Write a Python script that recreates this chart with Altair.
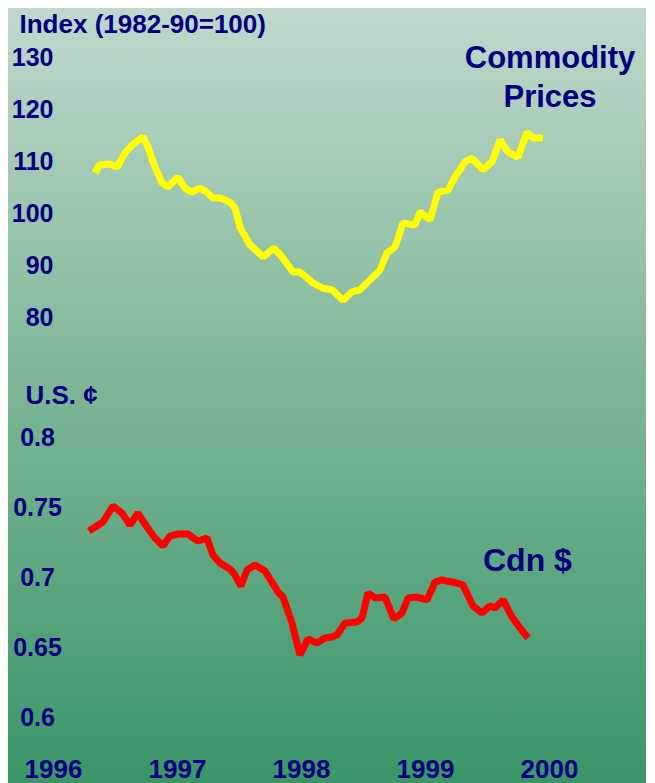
import altair as alt
import pandas as pd

# ---------------- data ----------------
cp_year = [1996.339, 1996.371, 1996.460, 1996.516, 1996.581, 1996.637, 1996.726, 1996.766,
           1996.823, 1996.879, 1996.927, 1997.008, 1997.065, 1997.121, 1997.185, 1997.242,
           1997.290, 1997.347, 1997.427, 1997.468, 1997.508, 1997.589, 1997.694, 1997.782,
           1997.847, 1997.935, 1997.992, 1998.097, 1998.177, 1998.250, 1998.339, 1998.411,
           1998.476, 1998.556, 1998.637, 1998.694, 1998.758, 1998.823, 1998.919, 1998.960,
           1999.040, 1999.105, 1999.185, 1999.242, 1999.323, 1999.379, 1999.468, 1999.540,
           1999.605, 1999.669, 1999.750, 1999.823, 1999.871, 1999.952]
cp_index = [107.8, 109.3, 109.5, 108.9, 111.6, 113.1, 114.7, 112.8,
            108.9, 105.9, 105.1, 107.0, 104.9, 104.1, 104.9, 104.1,
            103.0, 103.0, 102.2, 101.1, 97.4, 94.0, 91.7, 93.4,
            91.7, 88.8, 88.8, 86.7, 85.7, 85.4, 83.4, 85.0,
            85.4, 87.3, 89.2, 92.5, 93.6, 98.2, 97.8, 100.3,
            98.8, 104.1, 104.5, 107.0, 109.9, 110.6, 108.4, 109.9,
            114.1, 111.8, 110.8, 115.6, 114.5, 114.5]

cad_year = [1996.290, 1996.403, 1996.484, 1996.556, 1996.621, 1996.685, 1996.758, 1996.823,
            1996.887, 1996.944, 1997.008, 1997.089, 1997.169, 1997.242, 1997.290, 1997.347,
            1997.427, 1997.468, 1997.516, 1997.565, 1997.629, 1997.710, 1997.766, 1997.815,
            1997.855, 1997.927, 1997.992, 1998.056, 1998.129, 1998.194, 1998.250, 1998.290,
            1998.355, 1998.452, 1998.492, 1998.540, 1998.597, 1998.677, 1998.750, 1998.815,
            1998.863, 1998.935, 1999.016, 1999.081, 1999.137, 1999.258, 1999.306, 1999.387,
            1999.460, 1999.524, 1999.565, 1999.629, 1999.702, 1999.766, 1999.831]
cad_usc = [0.7336, 0.7400, 0.7514, 0.7464, 0.7379, 0.7464, 0.7364, 0.7286,
           0.7229, 0.7300, 0.7314, 0.7314, 0.7264, 0.7286, 0.7164, 0.7107,
           0.7064, 0.7021, 0.6943, 0.7057, 0.7093, 0.7050, 0.6971, 0.6900,
           0.6864, 0.6679, 0.6450, 0.6564, 0.6536, 0.6571, 0.6579, 0.6593,
           0.6679, 0.6686, 0.6714, 0.6893, 0.6857, 0.6864, 0.6707, 0.6750,
           0.6857, 0.6864, 0.6843, 0.6971, 0.6986, 0.6964, 0.6950, 0.6800,
           0.6750, 0.6800, 0.6786, 0.6843, 0.6721, 0.6643, 0.6571]

year_ticks = [1996, 1997, 1998, 1999, 2000]
index_ticks = [80, 90, 100, 110, 120, 130]
cad_ticks = [0.6, 0.65, 0.7, 0.75, 0.8]

top_title = "Index (1982-90=100)"
bottom_title = "U.S. ¢"
cp_label = ["Commodity", "Prices"]
cad_label = "Cdn $"

# ---------------- styling / layout ----------------
NAVY = "#000080"
FONT = "Liberation Sans"
W = 646
H_TOP = 375
H_BOT = 408
X_DOMAIN = [1995.573, 2000.782]
TOP_DOMAIN = [69.08, 140.92]
BOT_DOMAIN = [0.55357, 0.845]

GRAD = [(0.0, (193, 217, 205)), (0.45, (130, 185, 154)), (1.0, (58, 150, 104))]


def color_at(t):
    for (o1, c1), (o2, c2) in zip(GRAD[:-1], GRAD[1:]):
        if o1 <= t <= o2:
            f = (t - o1) / (o2 - o1)
            c = [round(a + (b - a) * f) for a, b in zip(c1, c2)]
            return "#%02x%02x%02x" % tuple(c)
    return "#%02x%02x%02x" % GRAD[-1][1]


def gradient(t0, t1):
    offs = [t0] + [o for o, _ in GRAD if t0 < o < t1] + [t1]
    stops = [alt.GradientStop(color=color_at(o), offset=(o - t0) / (t1 - t0)) for o in offs]
    return alt.LinearGradient(gradient="linear", stops=stops, x1=0, x2=0, y1=0, y2=1)


split = H_TOP / (H_TOP + H_BOT)
dummy = pd.DataFrame({"k": [0]})

x_scale = alt.Scale(domain=X_DOMAIN, nice=False, zero=False)

# ---------------- top panel ----------------
cp_df = pd.DataFrame({"year": cp_year, "index": cp_index})

bg_top = alt.Chart(dummy).mark_rect(color=gradient(0, split)).encode(
    x=alt.value(0), x2=alt.value("width"), y=alt.value(0), y2=alt.value("height"))

cp_line = alt.Chart(cp_df).mark_line(color="#FFFF00", strokeWidth=7, strokeJoin="bevel").encode(
    x=alt.X("year:Q", scale=x_scale, axis=None),
    y=alt.Y("index:Q", scale=alt.Scale(domain=TOP_DOMAIN, nice=False, zero=False),
            axis=alt.Axis(values=index_ticks, title=top_title, titleAngle=0, titleX=-34, titleY=32,
                          titleAlign="left", titleBaseline="alphabetic", titleFontSize=26,
                          offset=-53, labelAlign="right", labelBaseline="middle", labelPadding=0,
                          labelFontSize=25, ticks=False, domain=False, grid=False, labelOverlap=False,
                          zindex=2)),
)

cp_text = alt.Chart(dummy).mark_text(text=cp_label, font=FONT, fontWeight="bold", fontSize=31,
                                     color=NAVY, align="center", baseline="alphabetic",
                                     lineHeight=39).encode(x=alt.value(550), y=alt.value(68))

top = alt.layer(bg_top, cp_line, cp_text).properties(width=W, height=H_TOP)

# ---------------- bottom panel ----------------
cad_df = pd.DataFrame({"year": cad_year, "usc": cad_usc})

bg_bot = alt.Chart(dummy).mark_rect(color=gradient(split, 1.0)).encode(
    x=alt.value(0), x2=alt.value("width"), y=alt.value(0), y2=alt.value("height"))

cad_line = alt.Chart(cad_df).mark_line(color="#FF0000", strokeWidth=7, strokeJoin="bevel").encode(
    x=alt.X("year:Q", scale=x_scale,
            axis=alt.Axis(values=year_ticks, format="d", title=None, offset=-25, labelPadding=19,
                          labelBaseline="alphabetic", labelFontSize=26, ticks=False, domain=False,
                          grid=False, labelOverlap=False, labelFlush=False, zindex=2)),
    y=alt.Y("usc:Q", scale=alt.Scale(domain=BOT_DOMAIN, nice=False, zero=False),
            axis=alt.Axis(values=cad_ticks, format="~g", title=bottom_title, titleAngle=0,
                          titleX=-12, titleY=28, titleAlign="left", titleBaseline="alphabetic",
                          titleFontSize=26, offset=-37, labelAlign="center", labelBaseline="middle",
                          labelPadding=0, labelFontSize=25, ticks=False, domain=False, grid=False,
                          labelOverlap=False, zindex=2)),
)

cad_text = alt.Chart(dummy).mark_text(text=cad_label, font=FONT, fontWeight="bold", fontSize=32,
                                      color=NAVY, align="left", baseline="alphabetic").encode(
    x=alt.value(483), y=alt.value(196))

bottom = alt.layer(bg_bot, cad_line, cad_text).properties(width=W, height=H_BOT)

chart = alt.vconcat(top, bottom, spacing=0).properties(
    padding={"left": -8, "top": -8, "right": 0, "bottom": 0}
).configure_view(strokeWidth=0).configure_axis(
    labelFont=FONT, titleFont=FONT, labelColor=NAVY, titleColor=NAVY,
    labelFontWeight="bold", titleFontWeight="bold"
)

chart.save("out.html", embed_options={"renderer": "svg", "actions": False})
